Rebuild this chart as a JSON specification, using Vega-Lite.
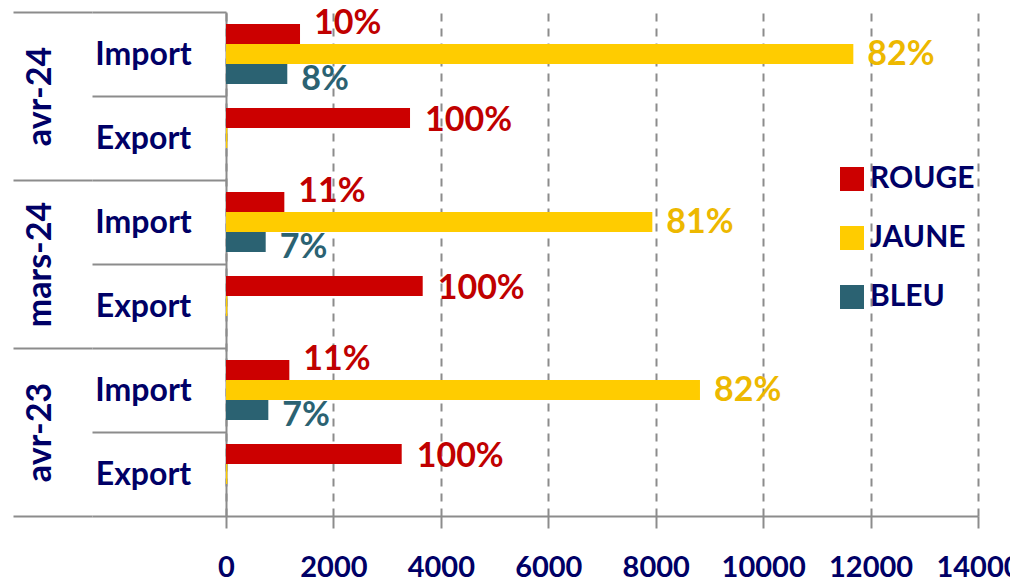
{
  "$schema": "https://vega.github.io/schema/vega-lite/v6.json",
  "width": 752,
  "height": 504,
  "autosize": {"type": "none"},
  "padding": {"left": 226, "top": 12, "right": 32, "bottom": 66},
  "background": "white",
  "config": {"font": "Lato", "view": {"stroke": null}},
  "data": {
    "values": [
      {"period": "avr-24", "flow": "Import", "key": "avr-24|Import", "serie": "ROUGE", "value": 1378, "label": "10%"},
      {"period": "avr-24", "flow": "Import", "key": "avr-24|Import", "serie": "JAUNE", "value": 11679, "label": "82%"},
      {"period": "avr-24", "flow": "Import", "key": "avr-24|Import", "serie": "BLEU", "value": 1141, "label": "8%"},
      {"period": "avr-24", "flow": "Export", "key": "avr-24|Export", "serie": "ROUGE", "value": 3426, "label": "100%"},
      {"period": "avr-24", "flow": "Export", "key": "avr-24|Export", "serie": "JAUNE", "value": 25, "label": ""},
      {"period": "avr-24", "flow": "Export", "key": "avr-24|Export", "serie": "BLEU", "value": 0, "label": ""},
      {"period": "mars-24", "flow": "Import", "key": "mars-24|Import", "serie": "ROUGE", "value": 1086, "label": "11%"},
      {"period": "mars-24", "flow": "Import", "key": "mars-24|Import", "serie": "JAUNE", "value": 7937, "label": "81%"},
      {"period": "mars-24", "flow": "Import", "key": "mars-24|Import", "serie": "BLEU", "value": 739, "label": "7%"},
      {"period": "mars-24", "flow": "Export", "key": "mars-24|Export", "serie": "ROUGE", "value": 3662, "label": "100%"},
      {"period": "mars-24", "flow": "Export", "key": "mars-24|Export", "serie": "JAUNE", "value": 25, "label": ""},
      {"period": "mars-24", "flow": "Export", "key": "mars-24|Export", "serie": "BLEU", "value": 0, "label": ""},
      {"period": "avr-23", "flow": "Import", "key": "avr-23|Import", "serie": "ROUGE", "value": 1179, "label": "11%"},
      {"period": "avr-23", "flow": "Import", "key": "avr-23|Import", "serie": "JAUNE", "value": 8824, "label": "82%"},
      {"period": "avr-23", "flow": "Import", "key": "avr-23|Import", "serie": "BLEU", "value": 788, "label": "7%"},
      {"period": "avr-23", "flow": "Export", "key": "avr-23|Export", "serie": "ROUGE", "value": 3271, "label": "100%"},
      {"period": "avr-23", "flow": "Export", "key": "avr-23|Export", "serie": "JAUNE", "value": 25, "label": ""},
      {"period": "avr-23", "flow": "Export", "key": "avr-23|Export", "serie": "BLEU", "value": 0, "label": ""}
    ]
  },
  "layer": [
    {
      "encoding": {
        "y": {
          "field": "key",
          "type": "nominal",
          "sort": ["avr-24|Import", "avr-24|Export", "mars-24|Import", "mars-24|Export", "avr-23|Import", "avr-23|Export"],
          "scale": {"paddingInner": 0, "paddingOuter": 0},
          "axis": {
            "title": null,
            "orient": "left",
            "labelExpr": "split(datum.value, '|')[1]",
            "tickBand": "extent",
            "tickSize": 134,
            "tickColor": "#8c8c8c",
            "tickWidth": 2,
            "domainColor": "#8c8c8c",
            "domainWidth": 2,
            "labelPadding": -51,
            "labelAlign": "center",
            "labelBaseline": "middle",
            "labelFont": "Lato",
            "labelFontSize": 32,
            "labelFontWeight": "bold",
            "labelColor": "#000066",
            "grid": false
          }
        },
        "yOffset": {
          "field": "serie",
          "type": "nominal",
          "sort": ["ROUGE", "JAUNE", "BLEU"],
          "scale": {"paddingInner": 0, "paddingOuter": 0.6}
        },
        "x": {
          "field": "value",
          "type": "quantitative",
          "scale": {"domain": [0, 14000], "nice": false},
          "axis": {
            "title": null,
            "values": [0, 2000, 4000, 6000, 8000, 10000, 12000, 14000],
            "format": "d",
            "grid": true,
            "gridDash": [8, 7],
            "gridColor": "#8c8c8c",
            "gridWidth": 2,
            "domainColor": "#8c8c8c",
            "domainWidth": 2,
            "tickColor": "#8c8c8c",
            "tickWidth": 2,
            "tickSize": 12,
            "labelFont": "Lato",
            "labelFontSize": 29,
            "labelFontWeight": "bold",
            "labelColor": "#000066",
            "labelPadding": 25,
            "labelFlush": false,
            "labelOverlap": false
          }
        }
      },
      "layer": [
        {
          "mark": {"type": "bar"},
          "encoding": {
            "color": {
              "field": "serie",
              "type": "nominal",
              "scale": {"domain": ["ROUGE", "JAUNE", "BLEU"], "range": ["#CC0000", "#FFCC00", "#2B6272"]},
              "legend": {
                "title": null,
                "orient": "none",
                "legendX": 611,
                "legendY": 152,
                "padding": 0,
                "symbolType": "square",
                "symbolSize": 576,
                "symbolStrokeWidth": 0,
                "symbolOpacity": 1,
                "labelFont": "Lato",
                "labelFontSize": 30,
                "labelFontWeight": "bold",
                "labelColor": "#000066",
                "labelOffset": 3,
                "rowPadding": 29
              }
            }
          }
        },
        {
          "transform": [{"filter": "datum.serie == 'ROUGE' && datum.flow == 'Import'"}],
          "mark": {"type": "text", "align": "left", "baseline": "middle", "dx": 14, "dy": -10, "font": "Lato", "fontSize": 34, "fontWeight": "bold", "color": "#C00000"},
          "encoding": {"text": {"field": "label"}}
        },
        {
          "transform": [{"filter": "datum.serie == 'ROUGE' && datum.flow == 'Export'"}],
          "mark": {"type": "text", "align": "left", "baseline": "middle", "dx": 15, "dy": 3, "font": "Lato", "fontSize": 34, "fontWeight": "bold", "color": "#C00000"},
          "encoding": {"text": {"field": "label"}}
        },
        {
          "transform": [{"filter": "datum.serie == 'JAUNE' && datum.label != ''"}],
          "mark": {"type": "text", "align": "left", "baseline": "middle", "dx": 14, "dy": 1, "font": "Lato", "fontSize": 34, "fontWeight": "bold", "color": "#EDB800"},
          "encoding": {"text": {"field": "label"}}
        },
        {
          "transform": [{"filter": "datum.serie == 'BLEU' && datum.label != ''"}],
          "mark": {"type": "text", "align": "left", "baseline": "middle", "dx": 14, "dy": 6, "font": "Lato", "fontSize": 34, "fontWeight": "bold", "color": "#2B6272"},
          "encoding": {"text": {"field": "label"}}
        }
      ]
    },
    {
      "mark": {"type": "rule", "opacity": 0},
      "encoding": {
        "y": {
          "field": "period",
          "type": "nominal",
          "sort": ["avr-24", "mars-24", "avr-23"],
          "scale": {"paddingInner": 0, "paddingOuter": 0},
          "axis": {
            "title": null,
            "orient": "left",
            "offset": 134,
            "domain": false,
            "tickBand": "extent",
            "tickSize": 79,
            "tickColor": "#8c8c8c",
            "tickWidth": 2,
            "labelAngle": -90,
            "labelAlign": "center",
            "labelBaseline": "middle",
            "labelPadding": -27,
            "labelFont": "Lato",
            "labelFontSize": 34,
            "labelFontWeight": "bold",
            "labelColor": "#000066",
            "grid": false
          }
        }
      }
    }
  ],
  "resolve": {"scale": {"y": "independent"}, "axis": {"y": "independent"}}
}
